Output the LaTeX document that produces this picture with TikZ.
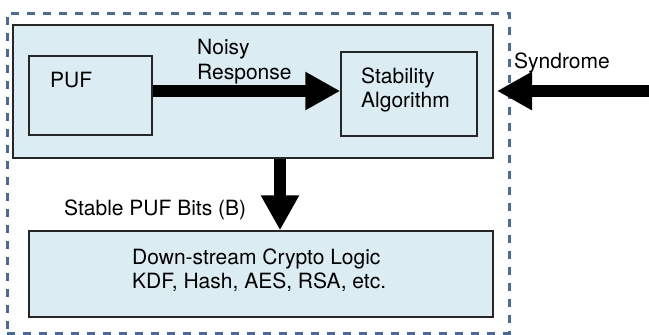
\documentclass[tikz,border=0pt]{standalone}
\usepackage{fontspec}
\setmainfont{TeX Gyre Heros}
\usetikzlibrary{arrows.meta}
\definecolor{boxfill}{HTML}{DBECF2}
\definecolor{dashblue}{HTML}{4A6B97}
\tikzset{
  box/.style={draw=black!85, line width=1.5pt, fill=boxfill, minimum width=#1, inner sep=0pt},
  lbl/.style={anchor=base west, inner sep=0pt, font=\fontsize{21}{25}\selectfont},
  bigarrow/.style={line width=12.5pt, -{Triangle[length=35pt,width=36pt]}},
}
\begin{document}
\begin{tikzpicture}[x=1pt,y=-1pt]
\useasboundingbox (0,0) rectangle (649,335);
% outer dashed boundary
\node (outer) [draw=dashblue, line width=3pt, dash pattern=on 8pt off 8pt,
  minimum width=502pt, minimum height=320pt, inner sep=0pt] at (258,173) {};
% boxes
\node (top) [box=480pt, minimum height=133pt, line width=2pt] at (253,91.5) {};
\node (puf) [box=123pt, minimum height=79pt] at (90.5,95.5) {};
\node (stab) [box=136pt, minimum height=84pt] at (409,94) {};
\node (bot) [box=464pt, minimum height=86pt] at (261,274) {};
% labels
\node (tpuf) [lbl] at (50,87) {PUF};
\node (tstab1) [lbl] at (361,83) {Stability};
\node (tstab2) [lbl] at (361,107) {Algorithm};
\node (tnoisy1) [lbl] at (197,54) {Noisy};
\node (tnoisy2) [lbl] at (197,79) {Response};
\node (tsyn) [lbl] at (514,68) {Syndrome};
\node (tbits) [lbl] at (64,215) {Stable PUF Bits (B)};
\node (tbot1) [lbl] at (132,264) {Down-stream Crypto Logic};
\node (tbot2) [lbl] at (132,288) {KDF, Hash, AES, RSA, etc.};
% arrows
\coordinate (synstart) at (649,91);
\coordinate (syntip) at (497,91);
\draw[bigarrow] (puf.east |- 0,91) -- (stab.west |- 0,91);
\draw[bigarrow] (synstart) -- (syntip);
\draw[bigarrow] (top.south -| 280,0) -- (bot.north -| 280,0);
\end{tikzpicture}
\end{document}
